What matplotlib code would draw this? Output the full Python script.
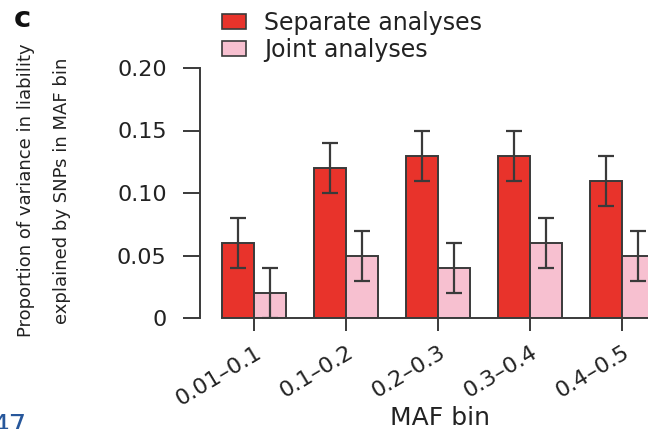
import matplotlib
matplotlib.use('Agg')
import matplotlib.pyplot as plt
import matplotlib.transforms as mtransforms
from matplotlib.patches import Patch
import numpy as np

bins = ['0.01–0.1', '0.1–0.2', '0.2–0.3', '0.3–0.4', '0.4–0.5']
separate = [0.06, 0.12, 0.13, 0.13, 0.11]
separate_err = [0.02, 0.02, 0.02, 0.02, 0.02]
joint = [0.02, 0.05, 0.04, 0.06, 0.05]
joint_err = [0.02, 0.02, 0.02, 0.02, 0.02]

red = '#e8332b'
pink = '#f7c0d0'
edge = '#3a3a3a'
ink = '#222222'

plt.rcParams['font.family'] = 'DejaVu Sans'

W, H = 648, 429
fig = plt.figure(figsize=(W / 100, H / 100), dpi=100)
ax = fig.add_axes([200 / W, 1 - 318 / H, 448 / W, 250 / H])

x = np.arange(len(bins))
w = 0.35
ax.bar(x - w / 2, separate, w, color=red, edgecolor=edge, linewidth=1.4, zorder=2)
ax.bar(x + w / 2, joint, w, color=pink, edgecolor=edge, linewidth=1.4, zorder=2)
ax.errorbar(x - w / 2, separate, yerr=separate_err, fmt='none', ecolor=edge,
            elinewidth=1.6, capsize=5.5, capthick=1.6, zorder=3)
ax.errorbar(x + w / 2, joint, yerr=joint_err, fmt='none', ecolor=edge,
            elinewidth=1.6, capsize=5.5, capthick=1.6, zorder=3)

ax.set_xlim(-54 / 92, 394 / 92)
ax.set_ylim(0, 0.20)

for s in ['top', 'right']:
    ax.spines[s].set_visible(False)
ax.spines['bottom'].set_bounds(-w, len(bins) - 1 + w)
ax.spines['bottom'].set_color(edge)
ax.spines['bottom'].set_linewidth(1.4)
ax.spines['left'].set_color(edge)
ax.spines['left'].set_linewidth(1.4)

ax.set_yticks([0, 0.05, 0.10, 0.15, 0.20])
ax.set_yticklabels(['0', '0.05', '0.10', '0.15', '0.20'])
ax.tick_params(axis='y', length=12, width=1.4, color=edge, pad=12,
               labelsize=16, labelcolor=ink)
ax.set_xticks(x)
ax.set_xticklabels(bins, rotation=31, ha='right', va='center',
                   rotation_mode='anchor')
ax.tick_params(axis='x', length=9, width=1.4, color=edge, pad=4,
               labelsize=16, labelcolor=ink)
# nudge the slanted labels so they end just below-right of each tick
offset = mtransforms.ScaledTranslation(6 / 100, -15 / 100, fig.dpi_scale_trans)
for lab in ax.get_xticklabels():
    lab.set_transform(lab.get_transform() + offset)

ax.set_ylabel('Proportion of variance in liability\nexplained by SNPs in MAF bin',
              fontsize=13, linespacing=2.3, color=ink)
ax.yaxis.set_label_coords((71 - 200) / 448, 0.51)

fig.text(440 / W, 1 - 425 / H, 'MAF bin', fontsize=18, ha='center',
         va='baseline', color=ink)

handles = [Patch(facecolor=red, edgecolor=edge, linewidth=1.2),
           Patch(facecolor=pink, edgecolor=edge, linewidth=1.2)]
fig.legend(handles, ['Separate analyses', 'Joint analyses'], loc='upper left',
           bbox_to_anchor=(222 / W, 1 - 11 / H), frameon=False, fontsize=17,
           handlelength=1.0, handleheight=0.6, handletextpad=0.8,
           labelspacing=0.12, borderpad=0, borderaxespad=0,
           labelcolor=ink)

fig.text(14 / W, 1 - 27 / H, 'c', fontsize=21, fontweight='bold',
         va='baseline', color='#111111')
fig.text(-8 / W, -6 / H, '47', fontsize=20, color='#27579b', va='baseline')

fig.savefig('out.png', dpi=100)
